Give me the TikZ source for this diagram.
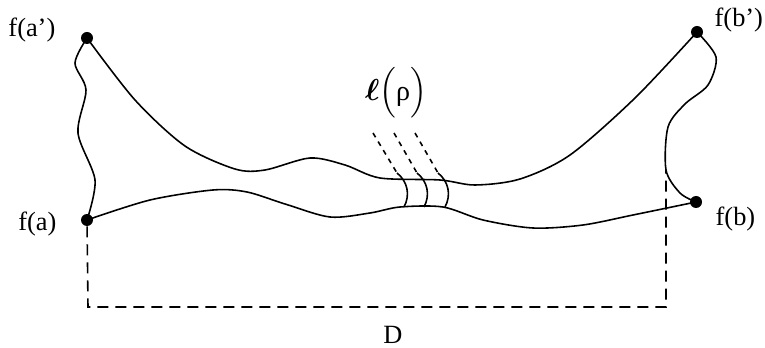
\documentclass[tikz,border=0pt]{standalone}
\usepackage{amsmath,amssymb,bm}
\usepackage{fontspec}
\setmainfont{Liberation Serif}
\usetikzlibrary{positioning,calc}

\begin{document}
\begin{tikzpicture}[x=0.2mm,y=0.2mm,
  lab/.style={font=\fontsize{15}{18}\selectfont,inner sep=0pt},
  dot/.style={circle,fill=black,inner sep=0pt,minimum size=2.4mm},
  curve/.style={line width=0.9pt,line join=round},
  dimline/.style={line width=0.9pt,dash pattern=on 2.2mm off 1.4mm},
  tick/.style={line width=0.9pt,dash pattern=on 1mm off 1mm}]
\useasboundingbox (0,0) rectangle (765,347);
% end points
\node[dot] (ap) at (87,309) {};
\node[dot] (a) at (87,127) {};
\node[dot] (bp) at (697,315) {};
\node[dot] (b) at (696,145) {};
\node[lab,left=5mm of ap,yshift=1.5mm] (lap) {f(a')};
\node[lab,left=4.8mm of a,yshift=-0.8mm] (la) {f(a)};
\node[lab,right=2.2mm of bp,yshift=2.4mm] (lbp) {f(b')};
\node[lab,right=2.6mm of b,yshift=-3.4mm] (lb) {f(b)};
\coordinate (rb) at (666,177);
% the four sides
\draw[curve] plot[smooth,tension=0.5] coordinates {(ap) (135,247) (185,201) (235,178) (265,177) (310,189) (345,182) (380,169) (440,167) (475,162) (520,168) (570,192) (635,249) (bp)};
\draw[curve] plot[smooth,tension=0.5] coordinates {(a) (150,147) (213,157) (247,155) (285,143) (330,130) (370,134) (400,140) (443,140) (483,127) (533,119) (583,122) (633,132) (b)};
\draw[curve] plot[smooth] coordinates {(ap) (75,284) (86,257) (78,214) (95,167) (a)};
\draw[curve] plot[smooth] coordinates {(bp) (716,290) (708,262) (685,243) (668,220) (rb) (680,154) (b)};
% curves l(rho)
\foreach \x/\s in {397/373, 417/394, 438/415}{
  \draw[tick] (\s,214)--(\x,174);
  \draw[curve] (\x,174) to[bend left=40] (\x+7,140);
}
\node[lab,font=\fontsize{16}{19}\selectfont] (ell) at (396,254) {$\boldsymbol{\ell}\Bigl(\text{ρ}\Bigr)$};
% distance D
\coordinate (dl) at (88,40);
\coordinate (dr) at (666,40);
\draw[dimline] (a) -- (dl) -- (dr) -- (rb);
\node[lab] (D) at (393,12) {D};
\end{tikzpicture}
\end{document}
